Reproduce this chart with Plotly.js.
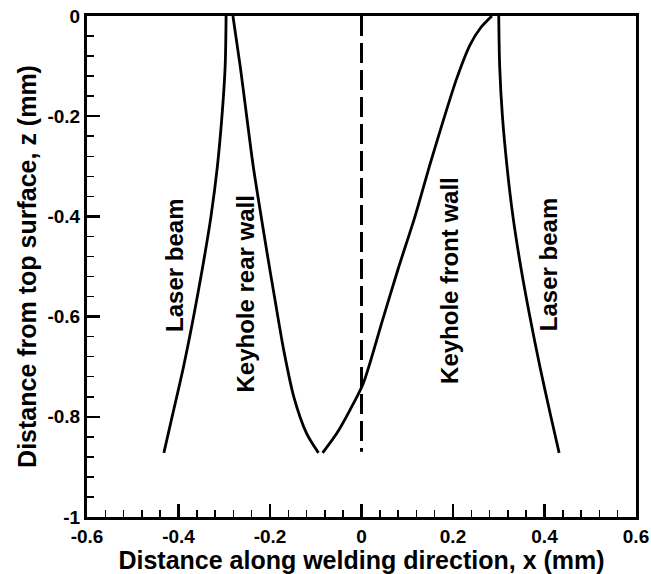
<!DOCTYPE html>
<html>
<head>
<meta charset="utf-8">
<script src="https://cdn.plot.ly/plotly-3.0.1.min.js"></script>
<style>html,body{margin:0;padding:0;background:#fff;}#chart{width:651px;height:574px;}</style>
</head>
<body>
<div id="chart"></div>
<script>
// Laser beam (left)
const laserLeftX = [-0.296, -0.298, -0.305, -0.315, -0.329, -0.347, -0.367, -0.389, -0.414, -0.432];
const laserLeftZ = [0, -0.1, -0.2, -0.3, -0.4, -0.5, -0.6, -0.7, -0.8, -0.872];
// Laser beam (right)
const laserRightX = [0.300, 0.302, 0.308, 0.318, 0.331, 0.348, 0.368, 0.390, 0.414, 0.432];
const laserRightZ = [0, -0.1, -0.2, -0.3, -0.4, -0.5, -0.6, -0.7, -0.8, -0.872];
// Keyhole rear wall
const rearX = [-0.281, -0.265, -0.251, -0.2365, -0.222, -0.206, -0.189, -0.170, -0.148, -0.120, -0.094];
const rearZ = [0, -0.101, -0.2, -0.301, -0.385, -0.475, -0.567, -0.667, -0.760, -0.833, -0.872];
// Keyhole front wall
const frontX = [-0.085, -0.054, -0.025, 0.004, 0.045, 0.080, 0.117, 0.150, 0.180, 0.208, 0.237, 0.260, 0.285];
const frontZ = [-0.872, -0.833, -0.786, -0.733, -0.610, -0.505, -0.400, -0.295, -0.205, -0.125, -0.058, -0.024, 0];
// Center line
const centerX = [0, 0];
const centerZ = [0, -0.87];

const xTickVals = [-0.6, -0.4, -0.2, 0, 0.2, 0.4, 0.6];
const xTickText = ["-0.6", "-0.4", "-0.2", "0", "0.2", "0.4", "0.6"];
const yTickVals = [0, -0.2, -0.4, -0.6, -0.8, -1];
const yTickText = ["0", "-0.2", "-0.4", "-0.6", "-0.8", "-1"];

const labelTexts = ["Laser beam", "Keyhole rear wall", "Keyhole front wall", "Laser beam"];
const labelX = [-0.41, -0.2525, 0.191, 0.408];
const labelZ = [-0.497, -0.554, -0.527, -0.497];

const lineStyle = {color: '#000', width: 2.8};
const traces = [
  {x: laserLeftX, y: laserLeftZ, mode: 'lines', line: lineStyle},
  {x: laserRightX, y: laserRightZ, mode: 'lines', line: lineStyle},
  {x: rearX, y: rearZ, mode: 'lines', line: lineStyle},
  {x: frontX, y: frontZ, mode: 'lines', line: lineStyle},
  {x: centerX, y: centerZ, mode: 'lines', line: {color: '#000', width: 3, dash: '20px,7px'}}
];
traces.forEach(t => { t.line = Object.assign({shape: 'spline', smoothing: 0.8}, t.line); t.showlegend = false; t.hoverinfo = 'skip'; });

const fontFam = 'Liberation Sans, Arial, sans-serif';
const annotations = labelTexts.map((t, i) => ({
  x: labelX[i], y: labelZ[i], xref: 'x', yref: 'y', text: t, showarrow: false,
  textangle: -90, font: {family: fontFam, size: 24, color: '#000', weight: 700}
}));

const axisCommon = {
  showgrid: false, zeroline: false, showline: true, linecolor: '#000', linewidth: 3,
  mirror: true, ticks: 'inside', ticklen: 13, tickwidth: 2.5, tickcolor: '#000',
  tickfont: {family: fontFam, size: 19, color: '#000', weight: 700},
  minor: {dtick: 0.04, ticks: 'inside', ticklen: 7, tickwidth: 1.5, tickcolor: '#000', showgrid: false}
};

const layout = {
  width: 651, height: 574,
  margin: {l: 87, r: 15, t: 16, b: 57},
  paper_bgcolor: '#fff', plot_bgcolor: '#fff',
  showlegend: false,
  xaxis: Object.assign({}, axisCommon, {
    range: [-0.6, 0.6], tickmode: 'array', tickvals: xTickVals, ticktext: xTickText,
    title: {text: 'Distance along welding direction, x (mm)', standoff: 0,
            font: {family: fontFam, size: 25, color: '#000', weight: 700}}
  }),
  yaxis: Object.assign({}, axisCommon, {
    range: [-1, 0], tickmode: 'array', tickvals: yTickVals, ticktext: yTickText,
    title: {text: 'Distance from top surface, z (mm)', standoff: 4,
            font: {family: fontFam, size: 25, color: '#000', weight: 700}}
  }),
  annotations: annotations
};

Plotly.newPlot('chart', traces, layout, {staticPlot: true, displayModeBar: false});
</script>
</body>
</html>
